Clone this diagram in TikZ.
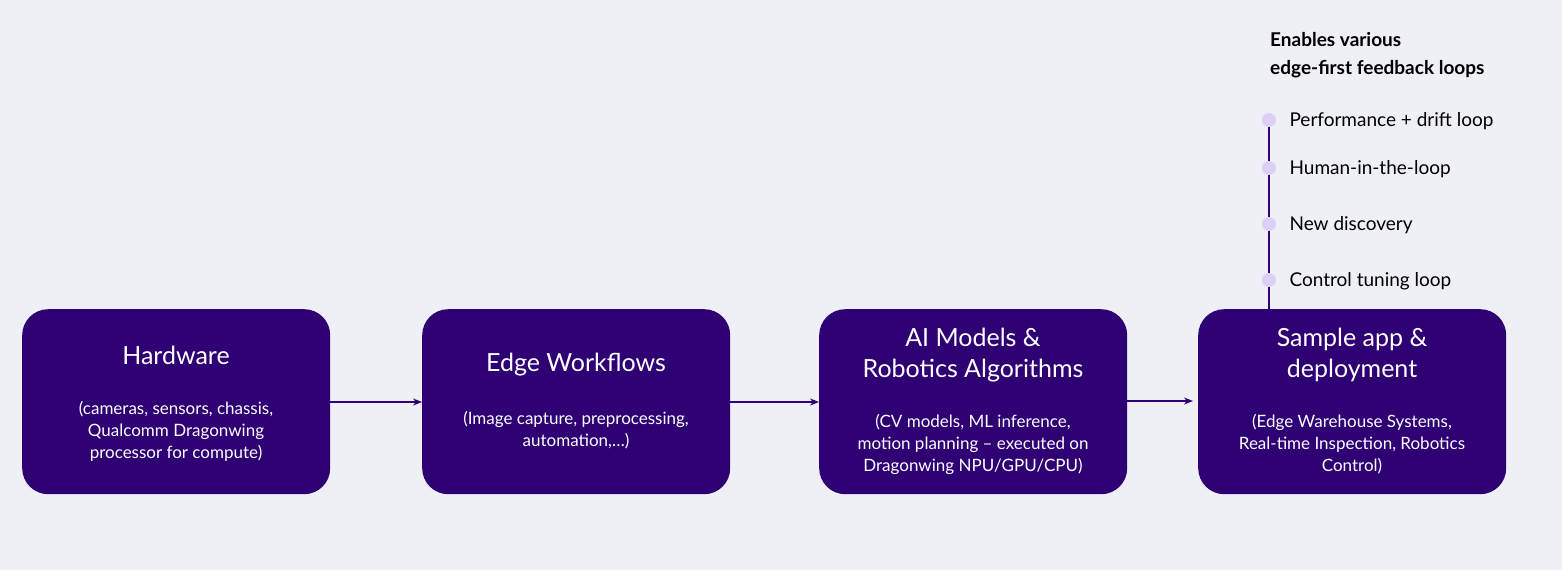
\documentclass[tikz,border=0pt]{standalone}
\usepackage{fontspec}
\setmainfont{Lato}
\usetikzlibrary{arrows.meta}
\definecolor{bg}{HTML}{EFF0F5}
\definecolor{box}{HTML}{2E0073}
\definecolor{dot}{HTML}{DCCFF5}
\begin{document}
\begin{tikzpicture}[x=1pt,y=-1pt,
  blk/.style={draw=none,fill=box,rounded corners=26pt,minimum width=308pt,minimum height=185pt,anchor=north west},
  ttl/.style={text=white,font=\fontsize{25}{31}\selectfont,align=center},
  sub/.style={text=white,font=\fontsize{17}{22}\selectfont,align=center},
  arr/.style={draw=box,line width=1.3pt,-{Stealth[length=9pt,width=7pt]}},
  dt/.style={circle,fill=dot,minimum size=14pt,inner sep=0pt},
  lbl/.style={anchor=west,font=\fontsize{19}{23}\selectfont}]
\fill[bg] (0,0) rectangle (1562,570);
\useasboundingbox (0,0) rectangle (1562,570);
\node[blk] (hw) at (22,309) {};
\node[blk] (ew) at (422,309) {};
\node[blk] (ai) at (819,309) {};
\node[blk] (sa) at (1198,309) {};
\node[ttl] (hwt) at (176,355) {Hardware};
\node[sub] (hws) at (176,431) {(cameras, sensors, chassis,\\Qualcomm Dragonwing\\processor for compute)};
\node[ttl] (ewt) at (576,365) {Edge Workflows};
\node[sub] (ews) at (576,430) {(Image capture, preprocessing,\\automation,…)};
\node[ttl] (ait) at (973,355) {AI Models \&\\Robotics Algorithms};
\node[sub] (ais) at (973,444) {(CV models, ML inference,\\motion planning – executed on\\Dragonwing NPU/GPU/CPU)};
\node[ttl] (sat) at (1352,355) {Sample app \&\\deployment};
\node[sub] (sas) at (1352,444) {(Edge Warehouse Systems,\\Real-time Inspection, Robotics\\Control)};
\draw[arr] (hw.east|-0,402) -- (ew.west|-0,402);
\draw[arr] (ew.east|-0,402) -- (ai.west|-0,402);
\draw[arr] (ai.east|-0,401) -- (1193,401);
\node[dt] (d1) at (1269,120) {};
\node[dt] (d2) at (1269,168) {};
\node[dt] (d3) at (1269,224) {};
\node[dt] (d4) at (1269,280) {};
\coordinate (top) at (1269,309);
\draw[box,line width=1.3pt] (d1) -- (d2) -- (d3) -- (d4) -- (top);
\node[lbl] at (1286,121) {Performance + drift loop};
\node[lbl] at (1286,169) {Human-in-the-loop};
\node[lbl] at (1286,225) {New discovery};
\node[lbl] at (1286,281) {Control tuning loop};
\node[anchor=north west,align=left,font=\bfseries\fontsize{19}{28}\selectfont,inner sep=0pt] (hd) at (1270,32) {Enables various\\edge-first feedback loops};
\end{tikzpicture}
\end{document}
